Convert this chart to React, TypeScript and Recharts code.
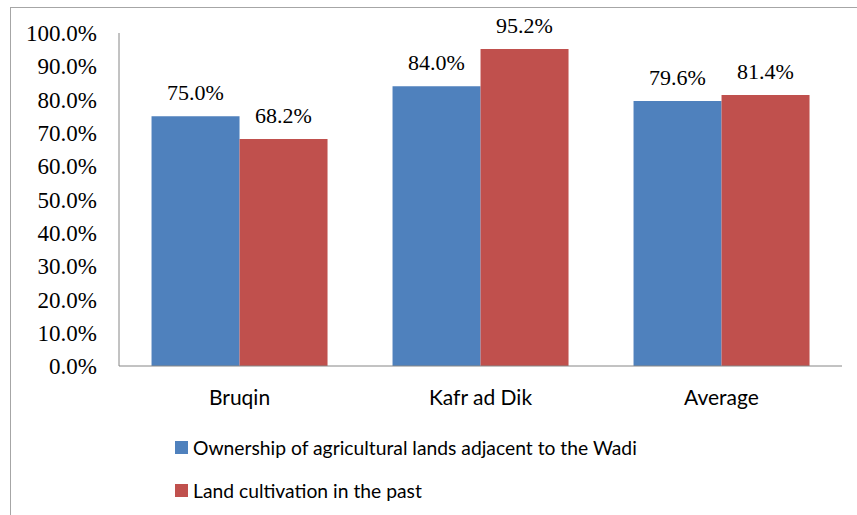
import React from 'react';
import { BarChart, Bar, XAxis, YAxis, LabelList, Legend } from 'recharts';

const categories = ['Bruqin', 'Kafr ad Dik', 'Average'];
const ownership = [75.0, 84.0, 79.6];
const cultivation = [68.2, 95.2, 81.4];
const yTicks = [0, 10, 20, 30, 40, 50, 60, 70, 80, 90, 100];
const seriesNames = [
  'Ownership of agricultural lands adjacent to the Wadi',
  'Land cultivation in the past',
];
const seriesColors = ['#4F81BD', '#C0504D'];

const data = categories.map((c, i) => ({ name: c, own: ownership[i], cult: cultivation[i] }));

const fmt = (v: number) => `${Number(v).toFixed(1)}%`;

const renderLegend = (props: any) => {
  const items = [...(props.payload || [])].sort(
    (a: any, b: any) => seriesNames.indexOf(a.value) - seriesNames.indexOf(b.value)
  );
  return (
    <div style={{ fontFamily: 'Lato', fontSize: 19.3, color: '#000' }}>
      {items.map((p: any, i: number) => (
        <div key={i} style={{ display: 'flex', alignItems: 'center', height: 43 }}>
          <span style={{ display: 'inline-block', width: 13, height: 13, background: p.color, marginRight: 5 }} />
          <span>{p.value}</span>
        </div>
      ))}
    </div>
  );
};

export default function App() {
  return (
    <div style={{ position: 'relative', width: 857, height: 515, overflow: 'hidden', background: '#fff' }}>
      <style>{`body{margin:0;overflow:hidden}`}</style>
      <div
        style={{
          position: 'absolute',
          left: 10,
          top: 7,
          width: 900,
          height: 600,
          border: '1px solid #a6a6a6',
          boxSizing: 'border-box',
        }}
      />
      <div style={{ position: 'absolute', left: 0, top: 0 }}>
        <BarChart
          width={857}
          height={515}
          data={data}
          margin={{ top: 33, right: 15, bottom: 0, left: 0 }}
          barCategoryGap="13.5%"
          barGap={0}
        >
          <YAxis
            width={119}
            domain={[0, 100]}
            ticks={yTicks}
            tickFormatter={fmt}
            tickLine={false}
            tickSize={6}
            tickMargin={16}
            axisLine={{ stroke: '#868686', strokeWidth: 1 }}
            tick={{ fill: '#000', fontFamily: 'Liberation Serif', fontSize: 23 }}
            interval={0}
          />
          <XAxis
            dataKey="name"
            height={149}
            tickLine={false}
            tickSize={6}
            tickMargin={18}
            axisLine={{ stroke: '#868686', strokeWidth: 1 }}
            tick={{ fill: '#000', fontFamily: 'Lato', fontSize: 21 }}
          />
          <Legend
            layout="vertical"
            align="center"
            verticalAlign="middle"
            content={renderLegend}
            wrapperStyle={{ left: 175, top: 426, width: 'auto', right: 'auto', bottom: 'auto' }}
          />
          <Bar dataKey="own" name={seriesNames[0]} fill={seriesColors[0]} isAnimationActive={false}>
            <LabelList
              dataKey="own"
              position="top"
              offset={16}
              formatter={(v: any) => fmt(v)}
              style={{ fill: '#000', fontFamily: 'Liberation Serif', fontSize: 22 }}
            />
          </Bar>
          <Bar dataKey="cult" name={seriesNames[1]} fill={seriesColors[1]} isAnimationActive={false}>
            <LabelList
              dataKey="cult"
              position="top"
              offset={16}
              formatter={(v: any) => fmt(v)}
              style={{ fill: '#000', fontFamily: 'Liberation Serif', fontSize: 22 }}
            />
          </Bar>
        </BarChart>
      </div>
    </div>
  );
}
